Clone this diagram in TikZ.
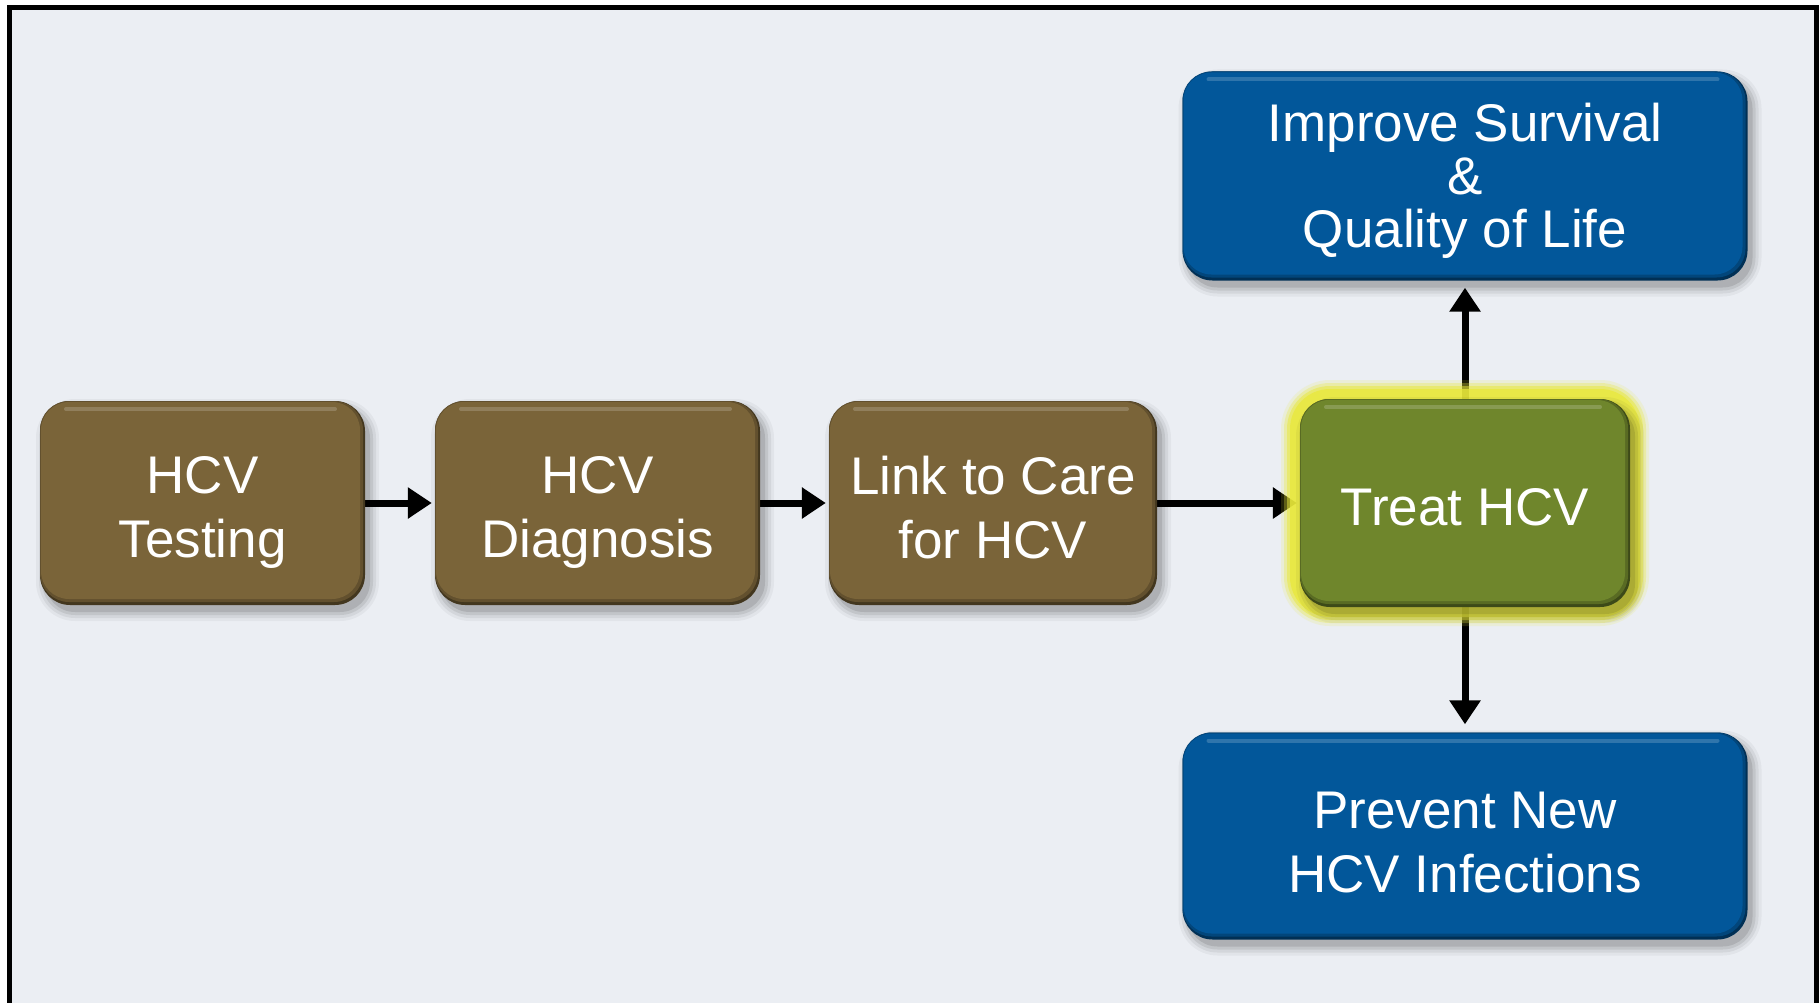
\documentclass[tikz,border=0pt]{standalone}
\usepackage{fontspec}
\setmainfont{Liberation Sans}
\usetikzlibrary{arrows.meta}
\definecolor{bgc}{HTML}{EBEEF3}
\definecolor{brownc}{HTML}{7A6439}
\definecolor{greenc}{HTML}{6F862C}
\definecolor{bluec}{HTML}{02579A}
\definecolor{glowc}{HTML}{E8E83A}
\pgfdeclarelayer{bg}
\pgfdeclarelayer{arr}
\pgfsetlayers{bg,arr,main}
\tikzset{
  boxtext/.style={text=white, align=center, inner sep=0pt, font=\fontsize{53}{64}\selectfont},
  tighttext/.style={font=\fontsize{53}{53}\selectfont},
  arrowline/.style={line width=7pt, -{Triangle[length=24pt,width=30pt]}},
}
% #1 name, #2 cx, #3 cy, #4 w, #5 h, #6 colour, #7 text options, #8 text
\newcommand\mybox[8]{%
  \foreach \s/\o in {9/0.04,6/0.06,3/0.08,0/0.10}{%
    \fill[black,opacity=\o,rounded corners={(30+\s)*1pt}]
      ({#2-#4/2+5-\s},{#3-#5/2+7-\s}) rectangle ({#2+#4/2+5+\s},{#3+#5/2+7+\s});
  }
  \fill[#6!55!black, rounded corners=30pt] ({#2-#4/2},{#3-#5/2}) rectangle ({#2+#4/2},{#3+#5/2});
  \fill[#6!80!black, rounded corners=29pt] ({#2-#4/2},{#3-#5/2}) rectangle ({#2+#4/2-2},{#3+#5/2-3});
  \fill[#6, rounded corners=28pt] ({#2-#4/2+1},{#3-#5/2+1}) rectangle ({#2+#4/2-5},{#3+#5/2-6});
  \draw[white,opacity=0.18,line width=4pt,line cap=round] ({#2-#4/2+26},{#3-#5/2+8}) -- ({#2+#4/2-30},{#3-#5/2+8});
  \node[inner sep=0pt,minimum width=#4,minimum height=#5] (#1) at (#2,#3) {};
  \node[boxtext,#7] (#1-t) at (#2,#3) {#8};
}
\begin{document}
\begin{tikzpicture}[x=1pt,y=-1pt]
\useasboundingbox (0,0) rectangle (1819,1003);
\begin{pgfonlayer}{bg}
  \fill[white] (0,0) rectangle (1819,1003);
  \fill[bgc] (9.5,7.5) rectangle (1816,1012);
  \draw[black,line width=5pt] (9.5,7.5) rectangle (1816,1012);
\end{pgfonlayer}

% glow around Treat HCV
\foreach \s/\o in {19/0.15,16/0.3,13/0.5,10/0.75}{%
  \fill[glowc,opacity=\o,rounded corners={(30+\s)*1pt}]
    ({1465-165-\s},{503-104-\s}) rectangle ({1465+165+\s},{503+104+\s});
}

\mybox{b1}{202.5}{503}{325}{204}{brownc}{yshift=-9pt}{HCV\\Testing}
\mybox{b2}{597.5}{503}{325}{204}{brownc}{yshift=-9pt}{HCV\\Diagnosis}
\mybox{b3}{993}{503}{328}{204}{brownc}{yshift=-5pt}{Link to Care\\for HCV}
\mybox{treat}{1465}{503}{330}{208}{greenc}{yshift=-4pt}{Treat HCV}
\mybox{imp}{1465}{176}{565}{209}{bluec}{tighttext,yshift=-5pt}{Improve Survival\\\&\\Quality of Life}
\mybox{prev}{1465}{836}{565}{207}{bluec}{yshift=-7pt}{Prevent New\\HCV Infections}

\begin{pgfonlayer}{arr}
  \draw[arrowline, shorten >=3pt] (b1.east) -- (b2.west);
  \draw[arrowline, shorten >=3pt] (b2.east) -- (b3.west);
  \draw[arrowline, shorten >=3pt] (b3.east) -- (treat.west);
  \draw[arrowline, shorten >=7pt] (treat.north) -- (imp.south);
  \draw[arrowline, shorten >=8pt] (treat.south) -- (prev.north);
\end{pgfonlayer}
\end{tikzpicture}
\end{document}
